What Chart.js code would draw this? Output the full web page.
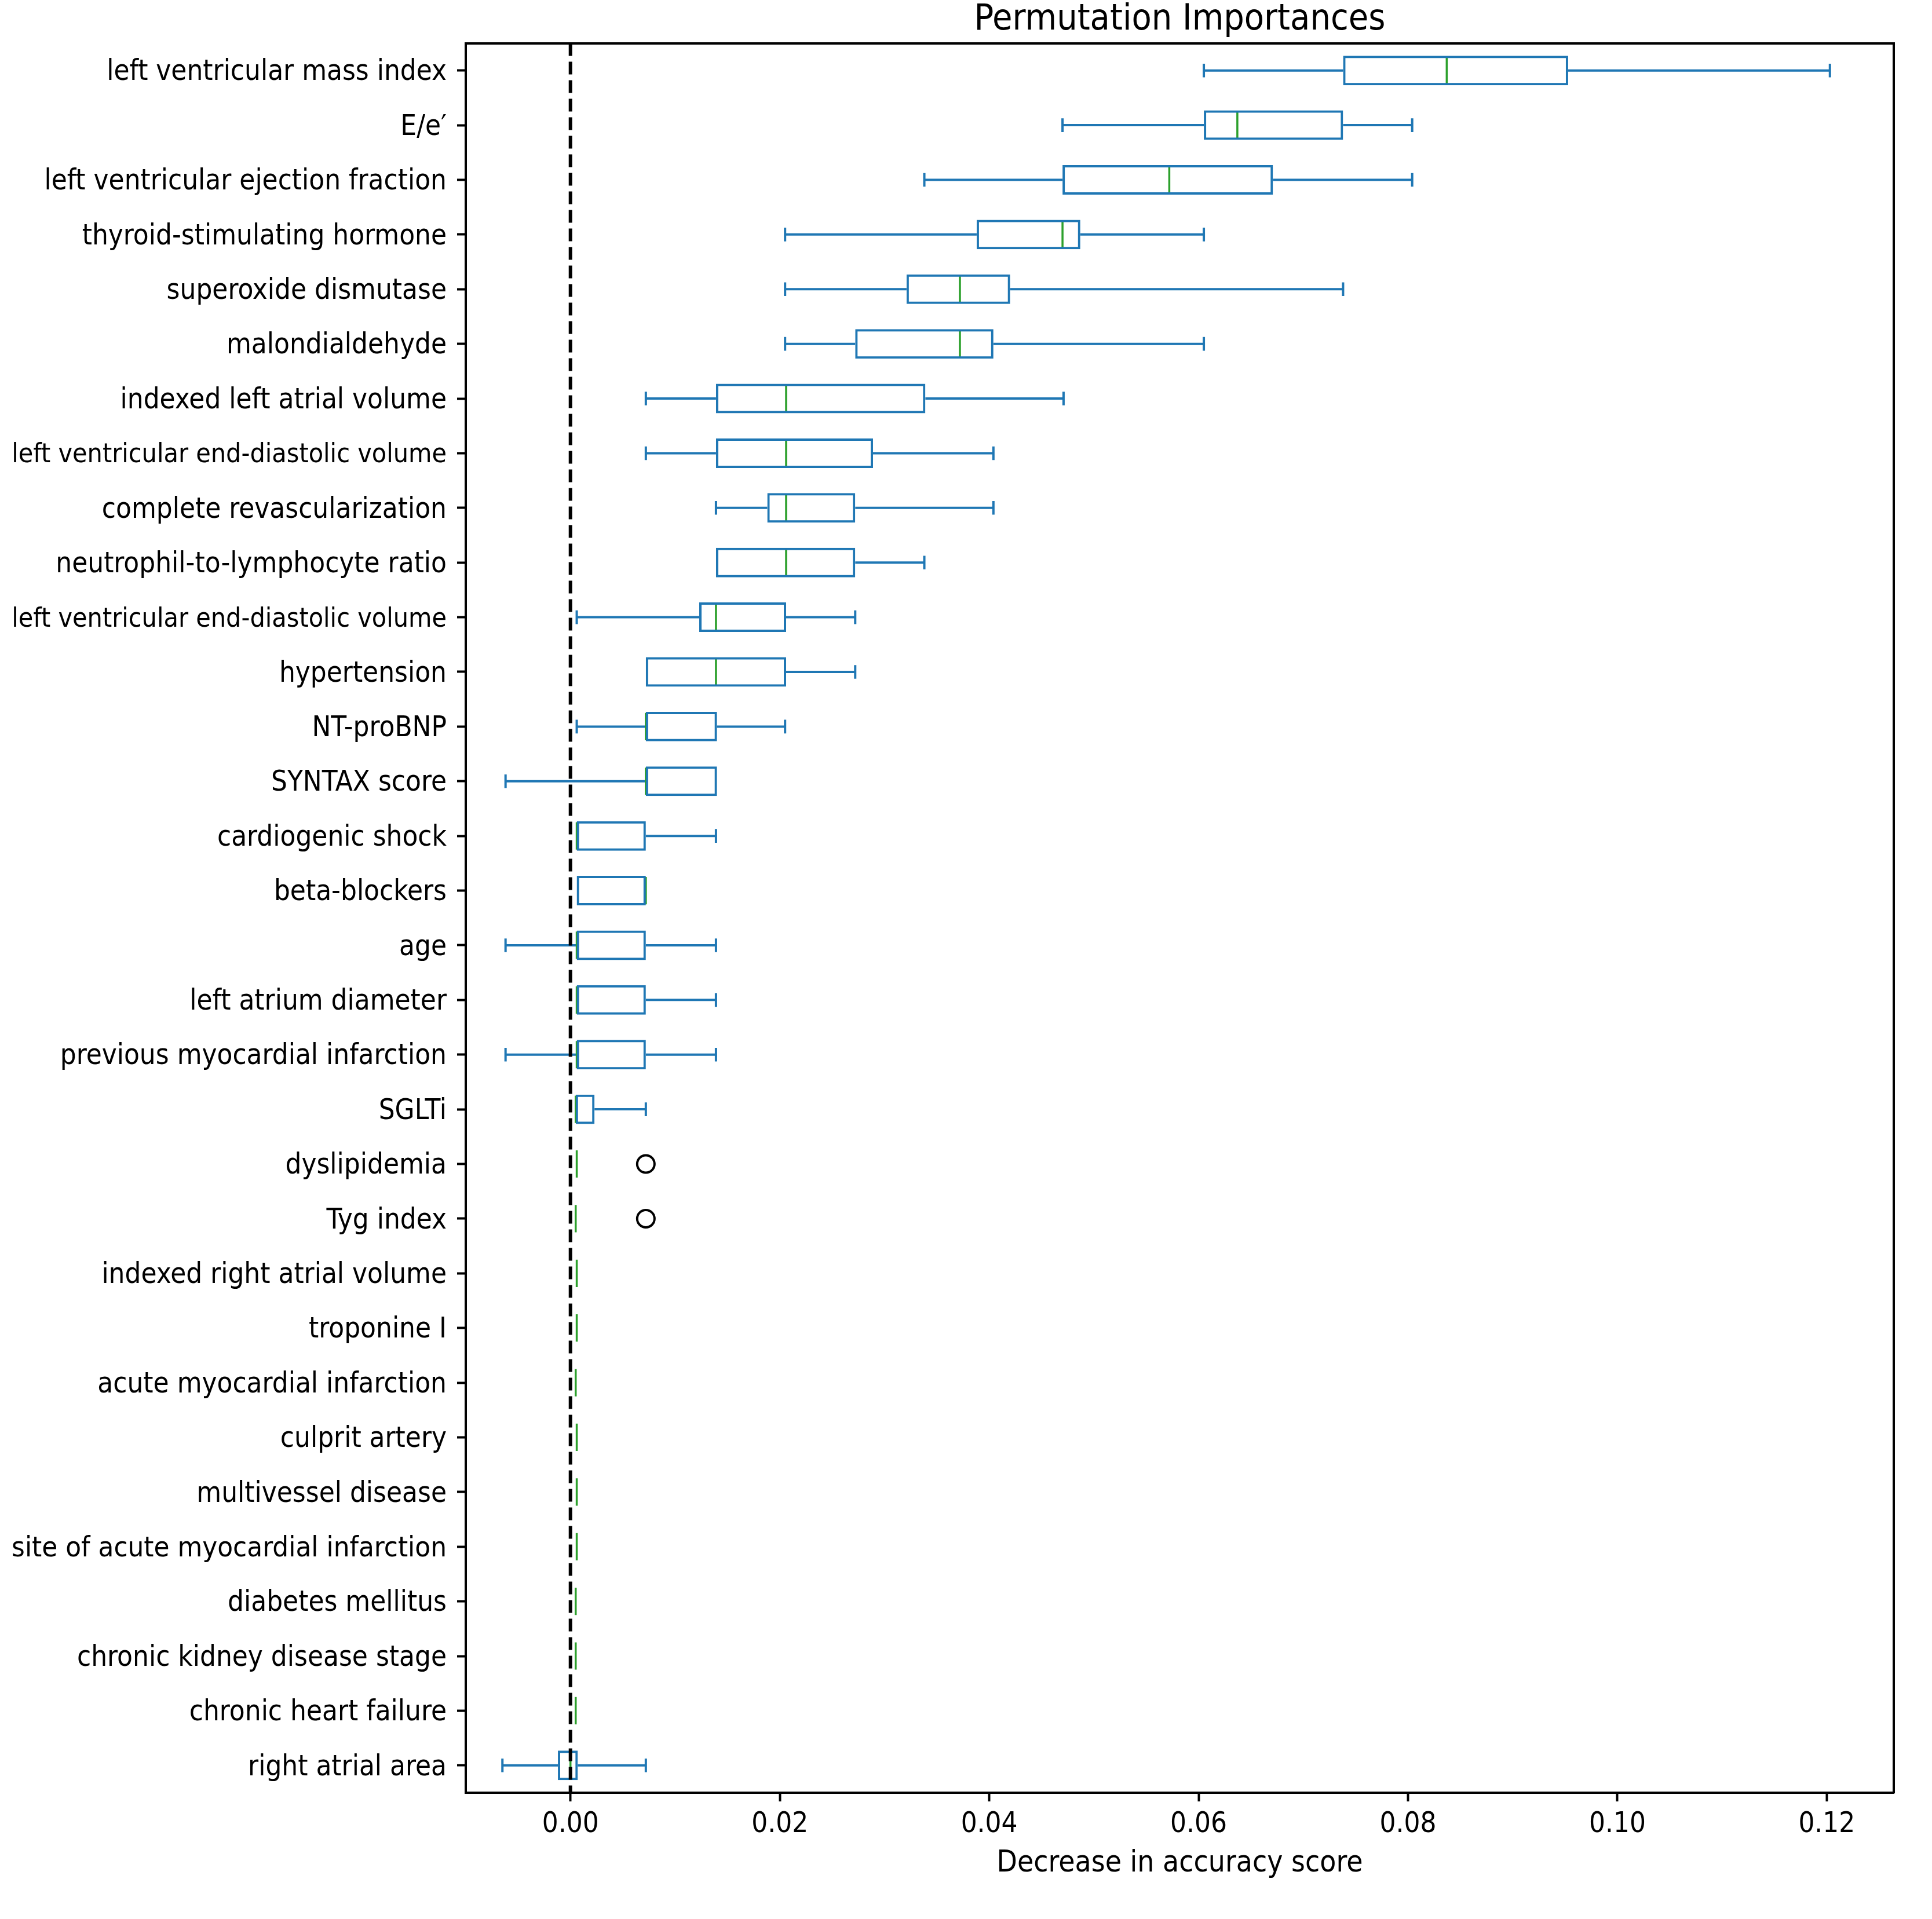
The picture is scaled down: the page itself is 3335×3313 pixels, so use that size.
<!DOCTYPE html>
<html>
<head>
<meta charset="utf-8">
<style>
  html, body { margin: 0; padding: 0; background: #ffffff; }
  #wrap { width: 3335px; height: 3313px; }
</style>
<script src="https://cdn.jsdelivr.net/npm/chart.js@4.4.1/dist/chart.umd.min.js"></script>
</head>
<body>
<div id="wrap"><canvas id="c" width="3335" height="3313"></canvas></div>
<script>
// ---------------- data ----------------
const labels = [
  "left ventricular mass index",
  "E/e\u2032",
  "left ventricular ejection fraction",
  "thyroid-stimulating hormone",
  "superoxide dismutase",
  "malondialdehyde",
  "indexed left atrial volume",
  "left ventricular end-diastolic volume",
  "complete revascularization",
  "neutrophil-to-lymphocyte ratio",
  "left ventricular end-diastolic volume",
  "hypertension",
  "NT-proBNP",
  "SYNTAX score",
  "cardiogenic shock",
  "beta-blockers",
  "age",
  "left atrium diameter",
  "previous myocardial infarction",
  "SGLTi",
  "dyslipidemia",
  "Tyg index",
  "indexed right atrial volume",
  "troponine I",
  "acute myocardial infarction",
  "culprit artery",
  "multivessel disease",
  "site of acute myocardial infarction",
  "diabetes mellitus",
  "chronic kidney disease stage",
  "chronic heart failure",
  "right atrial area"
];
const whiskerLow  = [0.0605, 0.0470, 0.0338, 0.0205, 0.0205, 0.0205, 0.0072, 0.0072, 0.0139, 0.0139, 0.0006, 0.0072, 0.0006, -0.0062, 0.0006, 0.0006, -0.0062, 0.0006, -0.0062, 0.0005, 0.0006, 0.0005, 0.0006, 0.0006, 0.0005, 0.0006, 0.0006, 0.0006, 0.0005, 0.0005, 0.0005, -0.0065];
const quartile1   = [0.0738, 0.0605, 0.0470, 0.0388, 0.0321, 0.0272, 0.0139, 0.0139, 0.0188, 0.0139, 0.0123, 0.0072, 0.0072, 0.0072, 0.0006, 0.0006, 0.0006, 0.0006, 0.0006, 0.0005, 0.0006, 0.0005, 0.0006, 0.0006, 0.0005, 0.0006, 0.0006, 0.0006, 0.0005, 0.0005, 0.0005, -0.0012];
const medians     = [0.0837, 0.0637, 0.0572, 0.0470, 0.0372, 0.0372, 0.0206, 0.0206, 0.0206, 0.0206, 0.0139, 0.0139, 0.0072, 0.0072, 0.0006, 0.0072, 0.0006, 0.0006, 0.0006, 0.0005, 0.0006, 0.0005, 0.0006, 0.0006, 0.0005, 0.0006, 0.0006, 0.0006, 0.0005, 0.0005, 0.0005, 0.0000];
const quartile3   = [0.0953, 0.0738, 0.0671, 0.0487, 0.0420, 0.0404, 0.0339, 0.0289, 0.0272, 0.0272, 0.0206, 0.0206, 0.0140, 0.0140, 0.0072, 0.0072, 0.0072, 0.0072, 0.0072, 0.0023, 0.0006, 0.0005, 0.0006, 0.0006, 0.0005, 0.0006, 0.0006, 0.0006, 0.0005, 0.0005, 0.0005, 0.0007];
const whiskerHigh = [0.1203, 0.0804, 0.0804, 0.0605, 0.0738, 0.0605, 0.0471, 0.0404, 0.0404, 0.0338, 0.0272, 0.0272, 0.0205, 0.0140, 0.0139, 0.0072, 0.0139, 0.0139, 0.0139, 0.0072, 0.0006, 0.0005, 0.0006, 0.0006, 0.0005, 0.0006, 0.0006, 0.0006, 0.0005, 0.0005, 0.0005, 0.0072];
const outlierRows   = [20, 21];
const outlierValues = [0.0072, 0.0072];
const xTickValues = [0.00, 0.02, 0.04, 0.06, 0.08, 0.10, 0.12];
const xMin = -0.0100, xMax = 0.1264;
const titleText = "Permutation Importances";
const xTitleText = "Decrease in accuracy score";

// ---------------- styles / layout targets ----------------
const BLUE = '#1f77b4', GREEN = '#2ca02c', BLACK = '#000000';
const REG = '"DejaVu Sans"';
const COND = '"DejaVu Sans Condensed"';
const LW = 4;
const TICK_LEN = 15, TICK_PAD = 18;
const AREA = { left: 804, right: 3269, top: 74.5, bottom: 3095 };  // plot frame in the reference
const LABEL_MAX = 751;          // widest room the reference gives a y label

// font selection: a condensed face drawn a bit taller (the reference text is tall and narrow)
const mctx = document.createElement('canvas').getContext('2d');
function measure(font, text) { mctx.font = font; return mctx.measureText(text).width; }
const probe = 'left ventricular mass index 0123456789';
const condAvailable = Math.abs(measure('44px ' + COND + ', monospace', probe) - measure('44px monospace', probe)) > 1
                   && Math.abs(measure('44px ' + COND + ', monospace', probe) - measure('44px ' + REG + ', monospace', probe)) > 1;
const condRatio = condAvailable ? measure('44px ' + COND, probe) / measure('44px ' + REG, probe) : 1;
const FAMILY = condAvailable ? COND + ', ' + REG + ', sans-serif' : REG + ', sans-serif';
const SCALE = condAvailable ? Math.min(1.2, 1 / condRatio) : 1;
function fnt(size, lh) { return { family: FAMILY, size: Math.round(size * SCALE * 10) / 10, lineHeight: lh }; }

const Y_FONT = fnt(44, 1.2);
const yFonts = labels.map(l => {
  const w = measure(Y_FONT.size + 'px ' + FAMILY, l);
  const s = w > LABEL_MAX ? Y_FONT.size * LABEL_MAX / w : Y_FONT.size;
  return { family: FAMILY, size: s, lineHeight: 1.2 };
});
let maxW = 0;
labels.forEach((l, i) => { maxW = Math.max(maxW, measure(yFonts[i].size + 'px ' + FAMILY, l)); });
const padLeft = Math.max(0, AREA.left - (TICK_LEN + TICK_PAD + maxW));

// ---------------- datasets built from arrays ----------------
const n = labels.length;
const boxData = labels.map((_, i) => ({ y: i, x: [quartile1[i], quartile3[i]] }));
const whiskerData = [];
const capData = [];
for (let i = 0; i < n; i++) {
  if (whiskerLow[i] < quartile1[i]) {
    whiskerData.push({ x: whiskerLow[i], y: i }, { x: quartile1[i], y: i }, { x: null, y: null });
    capData.push({ x: whiskerLow[i], y: i });
  }
  if (whiskerHigh[i] > quartile3[i]) {
    whiskerData.push({ x: quartile3[i], y: i }, { x: whiskerHigh[i], y: i }, { x: null, y: null });
    capData.push({ x: whiskerHigh[i], y: i });
  }
}
const medianData = labels.map((_, i) => ({ x: medians[i], y: i }));
const outlierData = outlierRows.map((r, k) => ({ x: outlierValues[k], y: r }));
const zeroLine = [{ x: 0, y: -0.5 }, { x: 0, y: n - 0.5 }];

function rowPx(ctx, frac) {
  const s = ctx.chart.scales.y;
  return Math.abs(s.getPixelForValue(frac) - s.getPixelForValue(0));
}

const frameBorder = { display: true, color: BLACK, width: LW };

const chart = new Chart(document.getElementById('c'), {
  type: 'scatter',
  data: {
    datasets: [
      {
        type: 'line', label: 'zero', data: zeroLine, order: 0,
        borderColor: BLACK, borderWidth: 6, borderDash: [22, 10],
        pointRadius: 0, fill: false, clip: false
      },
      {
        type: 'bar', label: 'boxes', data: boxData, indexAxis: 'y', order: 2,
        backgroundColor: 'rgba(0,0,0,0)', borderColor: BLUE, borderWidth: LW,
        borderSkipped: false, categoryPercentage: 1.0, barPercentage: 0.54
      },
      {
        type: 'scatter', label: 'medians', data: medianData, order: 3,
        pointStyle: 'line', pointRotation: 90,
        pointRadius: (c) => rowPx(c, 0.25),
        pointBorderColor: GREEN, pointBorderWidth: 3.5
      },
      {
        type: 'line', label: 'whiskers', data: whiskerData, order: 4,
        borderColor: BLUE, borderWidth: LW, pointRadius: 0, spanGaps: false, fill: false
      },
      {
        type: 'scatter', label: 'caps', data: capData, order: 4,
        pointStyle: 'line', pointRotation: 90,
        pointRadius: (c) => rowPx(c, 0.125),
        pointBorderColor: BLUE, pointBorderWidth: LW
      },
      {
        type: 'scatter', label: 'outliers', data: outlierData, order: 1,
        pointStyle: 'circle', pointRadius: 15,
        pointBackgroundColor: 'rgba(0,0,0,0)', pointBorderColor: BLACK, pointBorderWidth: LW
      }
    ]
  },
  options: {
    responsive: false,
    devicePixelRatio: 1,
    animation: false,
    events: [],
    layout: { padding: { left: padLeft, right: 66, top: 0, bottom: 57 } },
    plugins: { legend: { display: false }, tooltip: { enabled: false }, title: { display: false } },
    scales: {
      x: {
        type: 'linear', position: 'bottom', min: xMin, max: xMax, offset: false, beginAtZero: false,
        afterBuildTicks: (s) => { s.ticks = xTickValues.map(v => ({ value: v })); },
        ticks: {
          callback: (v) => Number(v).toFixed(2),
          font: fnt(44, '52px'), color: BLACK,
          padding: 14, maxRotation: 0, autoSkip: false
        },
        grid: { display: true, drawOnChartArea: false, drawTicks: true, tickLength: TICK_LEN, tickWidth: LW, tickColor: BLACK, offset: false },
        border: frameBorder,
        title: {
          display: true, text: xTitleText, color: BLACK,
          font: fnt(46, '56px'),
          padding: { top: 0, bottom: 18 }
        }
      },
      x2: {
        type: 'linear', position: 'top', min: xMin, max: xMax, display: true, offset: false,
        ticks: { display: false },
        grid: { display: false, drawTicks: false },
        border: frameBorder,
        title: {
          display: true, text: titleText, color: BLACK,
          font: fnt(56, '60px'),
          padding: { top: 5, bottom: 9.5 }
        }
      },
      y: {
        type: 'linear', position: 'left', min: -0.5, max: n - 0.5, reverse: true,
        offset: false, beginAtZero: false,
        afterBuildTicks: (s) => { s.ticks = labels.map((_, i) => ({ value: i })); },
        ticks: {
          callback: (v) => labels[v],
          font: (c) => (c.tick && yFonts[c.tick.value]) ? yFonts[c.tick.value] : Y_FONT,
          color: BLACK,
          padding: TICK_PAD, autoSkip: false, labelOffset: 4
        },
        grid: { display: true, drawOnChartArea: false, drawTicks: true, tickLength: TICK_LEN, tickWidth: LW, tickColor: BLACK, offset: false },
        border: frameBorder
      },
      y2: {
        type: 'linear', position: 'right', min: -0.5, max: n - 0.5, display: true, offset: false,
        ticks: { display: false },
        grid: { display: false, drawTicks: false },
        border: frameBorder
      }
    }
  }
});

// nudge the layout paddings so the plot frame lands where the reference has it
(function fitFrame() {
  const a = chart.chartArea;
  const o = chart.options;
  let changed = false;
  const dl = a.left - AREA.left;
  if (Math.abs(dl) > 0.5) { o.layout.padding.left = Math.max(0, o.layout.padding.left - dl); changed = true; }
  const dr = AREA.right - a.right;
  if (Math.abs(dr) > 0.5) { o.layout.padding.right = Math.max(0, o.layout.padding.right + dr); changed = true; }
  const dt = a.top - AREA.top;
  if (Math.abs(dt) > 0.5) { o.scales.x2.title.padding.bottom = Math.max(0, o.scales.x2.title.padding.bottom - dt); changed = true; }
  const db = a.bottom - AREA.bottom;
  if (Math.abs(db) > 0.5) { o.layout.padding.bottom = Math.max(0, o.layout.padding.bottom + db); changed = true; }
  if (changed) chart.update();
})();
</script>
</body>
</html>
